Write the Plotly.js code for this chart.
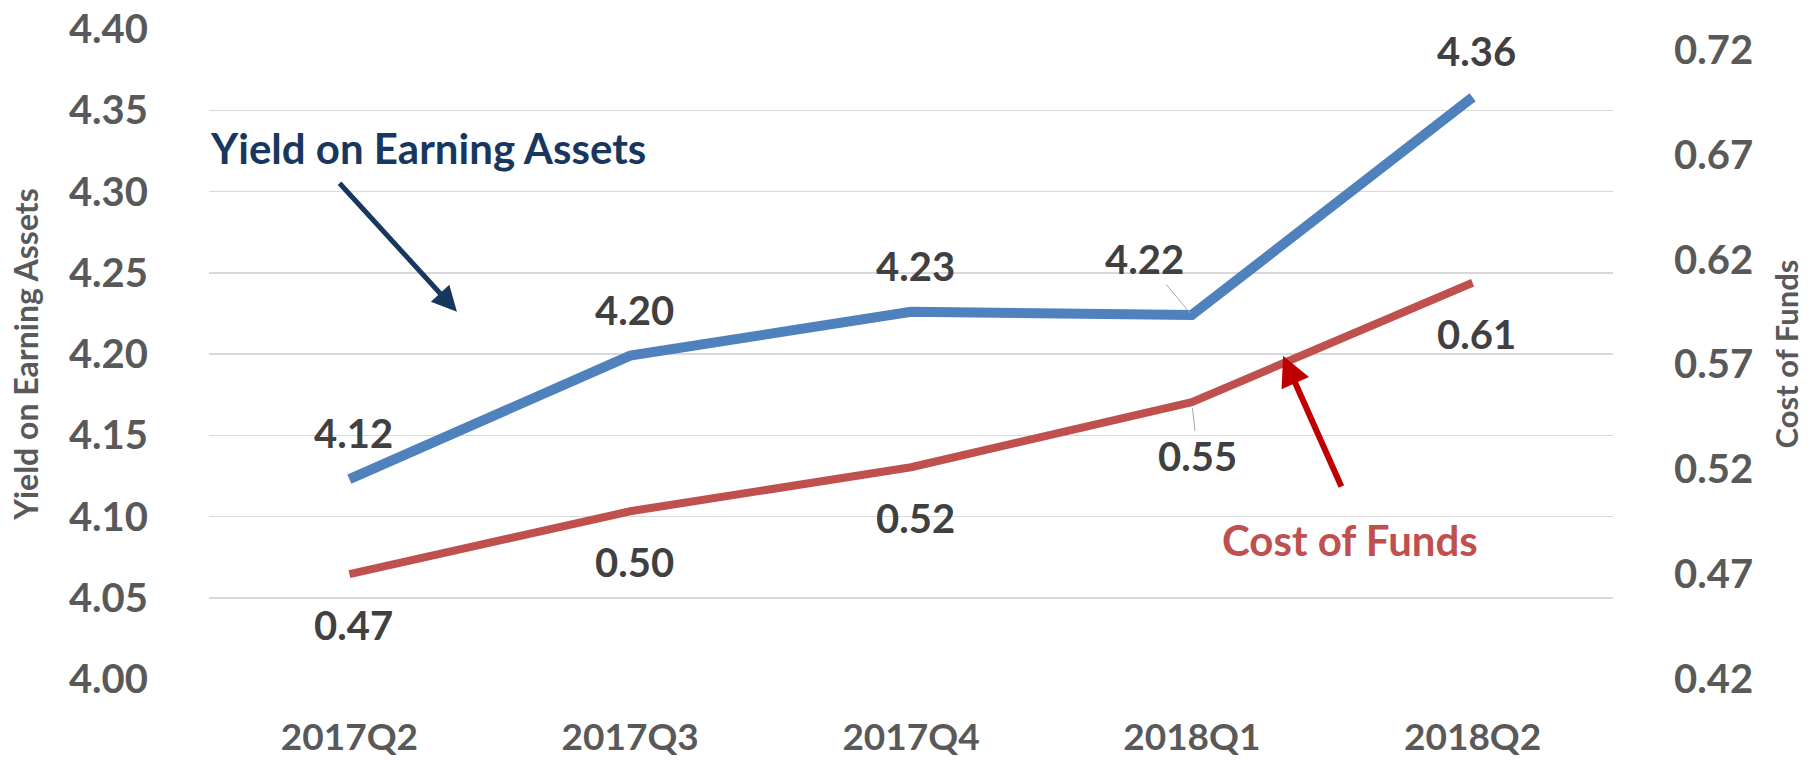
<!DOCTYPE html>
<html>
<head>
<meta charset="utf-8">
<script src="https://cdn.plot.ly/plotly-3.0.1.min.js"></script>
<style>html,body{margin:0;padding:0;background:#fff;}#chart{width:1814px;height:763px;}</style>
</head>
<body>
<div id="chart"></div>
<script>
const quarters = ["2017Q2", "2017Q3", "2017Q4", "2018Q1", "2018Q2"];
const yieldOnEarningAssets = [4.123, 4.199, 4.226, 4.224, 4.358];
const costOfFunds = [0.470, 0.500, 0.521, 0.552, 0.609];
const yieldLabels = ["4.12", "4.20", "4.23", "4.22", "4.36"];
const costLabels = ["0.47", "0.50", "0.52", "0.55", "0.61"];
const leftTicks = [4.00, 4.05, 4.10, 4.15, 4.20, 4.25, 4.30, 4.35, 4.40];
const rightTicks = [0.42, 0.47, 0.52, 0.57, 0.62, 0.67, 0.72];

const FONT = "Lato, 'Open Sans', sans-serif";
const BLUE = "#4F81BD", RED = "#C0504D";

const traces = [
  {x: quarters, y: yieldOnEarningAssets, type: "scatter", mode: "lines", name: "Yield on Earning Assets",
   line: {color: BLUE, width: 10}, yaxis: "y", hoverinfo: "skip"},
  {x: quarters, y: costOfFunds, type: "scatter", mode: "lines", name: "Cost of Funds",
   line: {color: RED, width: 8}, yaxis: "y2", hoverinfo: "skip"}
];

const labelFont = {family: FONT, size: 40, color: "#404040", weight: 700};
const annotations = [];
quarters.forEach((q, i) => {
  const special = i === 3;
  annotations.push({
    x: q, y: yieldOnEarningAssets[i], xref: "x", yref: "y", text: "<b>" + yieldLabels[i] + "</b>",
    font: labelFont, showarrow: special, arrowhead: 0, arrowwidth: 1, arrowcolor: "#A6A6A6",
    ax: special ? -47 : 0, ay: special ? -56 : 0, standoff: 2,
    yshift: special ? 0 : 46, xshift: special ? 0 : 4
  });
  annotations.push({
    x: q, y: costOfFunds[i], xref: "x", yref: "y2", text: "<b>" + costLabels[i] + "</b>",
    font: labelFont, showarrow: special, arrowhead: 0, arrowwidth: 1, arrowcolor: "#A6A6A6",
    ax: special ? 6 : 0, ay: special ? 54 : 0, standoff: 6,
    yshift: special ? 0 : -51, xshift: special ? 0 : 4
  });
});

// Callout labels and arrows
annotations.push({
  x: 0.28, y: 4.327, xref: "x", yref: "y", text: "<b>Yield on Earning Assets</b>", showarrow: false,
  font: {family: FONT, size: 42, color: "#17375E"}
});
annotations.push({
  x: 0.383, y: 4.226, xref: "x", yref: "y", ax: -0.04, ay: 4.306, axref: "x", ayref: "y",
  text: "", showarrow: true, arrowhead: 2, arrowsize: 1, arrowwidth: 5, arrowcolor: "#17375E"
});
annotations.push({
  x: 3.563, y: 4.0855, xref: "x", yref: "y", text: "<b>Cost of Funds</b>", showarrow: false,
  font: {family: FONT, size: 42, color: RED}
});
annotations.push({
  x: 3.325, y: 4.199, xref: "x", yref: "y", ax: 3.535, ay: 4.1175, axref: "x", ayref: "y",
  text: "", showarrow: true, arrowhead: 2, arrowsize: 1, arrowwidth: 6, arrowcolor: "#C00000"
});

const tickFont = {family: FONT, size: 40, color: "#595959", weight: 700};

const layout = {
  width: 1814, height: 763,
  margin: {l: 209, r: 201, t: 29, b: 84, pad: 0},
  paper_bgcolor: "#ffffff", plot_bgcolor: "#ffffff",
  showlegend: false,
  hovermode: false,
  xaxis: {
    type: "category", range: [-0.5, 4.5], showgrid: false, zeroline: false, showline: false,
    ticks: "outside", ticklen: 26, tickcolor: "rgba(0,0,0,0)",
    tickfont: {family: FONT, size: 37, color: "#595959", weight: 700}
  },
  yaxis: {
    range: [4.0, 4.4], tickvals: leftTicks, tickformat: ".2f",
    showgrid: true, gridcolor: "#D9D9D9", gridwidth: 1.5, zeroline: false, showline: false,
    ticks: "outside", ticklen: 52, tickcolor: "rgba(0,0,0,0)", tickfont: tickFont,
    title: {text: "<b>Yield on Earning Assets</b>", standoff: 20,
            font: {family: FONT, size: 32, color: "#595959"}}
  },
  yaxis2: {
    range: [0.42, 0.73], tickvals: rightTicks, tickformat: ".2f", overlaying: "y", side: "right",
    showgrid: false, zeroline: false, showline: false,
    ticks: "outside", ticklen: 52, tickcolor: "rgba(0,0,0,0)", tickfont: tickFont,
    title: {text: "<b>Cost of Funds</b>", standoff: 24,
            font: {family: FONT, size: 31, color: "#595959"}}
  },
  annotations: annotations
};

Plotly.newPlot("chart", traces, layout, {staticPlot: true, displayModeBar: false});
</script>
</body>
</html>
